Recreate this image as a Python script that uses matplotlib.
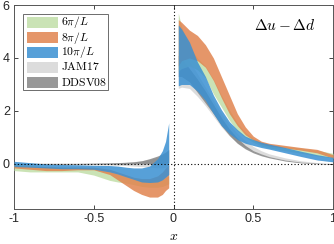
import matplotlib
matplotlib.use("Agg")
import matplotlib.pyplot as plt
from matplotlib.patches import Rectangle

plt.rcParams['mathtext.fontset'] = 'cm'
plt.rcParams['font.family'] = ['Liberation Sans', 'DejaVu Sans']

# ---- data ----
xl = [-1.0, -0.9, -0.8, -0.7, -0.6, -0.5, -0.4, -0.35, -0.3, -0.25, -0.2, -0.15, -0.1, -0.07, -0.05, -0.03]
xr = [0.03, 0.05, 0.1, 0.15, 0.2, 0.25, 0.3, 0.35, 0.4, 0.45, 0.5, 0.55, 0.6, 0.7, 0.8, 0.9, 1.0]

# 6pi/L (green)
g_hi_l = [0.0, -0.05, -0.1, -0.12, -0.12, -0.18, -0.3, -0.38, -0.45, -0.55, -0.62, -0.65, -0.65, -0.6, -0.5, -0.45]
g_lo_l = [-0.25, -0.3, -0.3, -0.3, -0.3, -0.42, -0.62, -0.68, -0.72, -0.78, -0.85, -0.88, -0.88, -0.85, -0.8, -0.75]
g_hi_r = [5.7, 5.2, 4.4, 4.0, 3.7, 3.2, 2.6, 2.05, 1.55, 1.2, 0.97, 0.82, 0.74, 0.66, 0.6, 0.52, 0.4]
g_lo_r = [3.5, 3.6, 3.7, 3.55, 3.25, 2.65, 2.15, 1.65, 1.25, 1.0, 0.82, 0.68, 0.6, 0.5, 0.4, 0.3, 0.22]

# 8pi/L (orange)
o_hi_l = [-0.05, -0.08, -0.1, -0.12, -0.12, -0.12, -0.2, -0.3, -0.4, -0.5, -0.55, -0.55, -0.45, -0.3, -0.15, -0.05]
o_lo_l = [-0.15, -0.2, -0.25, -0.25, -0.22, -0.22, -0.4, -0.6, -0.8, -1.0, -1.15, -1.25, -1.25, -1.15, -1.0, -0.9]
o_hi_r = [5.45, 5.35, 5.05, 4.85, 4.5, 4.0, 3.3, 2.6, 1.9, 1.4, 1.05, 0.86, 0.78, 0.7, 0.62, 0.55, 0.35]
o_lo_r = [3.7, 3.9, 4.0, 3.9, 3.65, 3.15, 2.5, 1.9, 1.45, 1.1, 0.9, 0.75, 0.68, 0.6, 0.52, 0.42, 0.22]

# 10pi/L (blue)
b_hi_l = [0.1, 0.05, 0.0, -0.02, -0.03, -0.05, -0.06, -0.08, -0.12, -0.15, -0.15, -0.08, 0.2, 0.5, 0.85, 1.55]
b_lo_l = [-0.1, -0.12, -0.15, -0.18, -0.18, -0.2, -0.3, -0.38, -0.48, -0.58, -0.68, -0.7, -0.68, -0.6, -0.5, -0.4]
b_hi_r = [5.25, 5.1, 4.6, 3.85, 3.3, 2.6, 2.05, 1.6, 1.3, 1.05, 0.92, 0.82, 0.75, 0.62, 0.48, 0.35, 0.25]
b_lo_r = [2.95, 3.0, 3.0, 2.75, 2.4, 1.9, 1.45, 1.15, 0.92, 0.78, 0.7, 0.62, 0.56, 0.42, 0.28, 0.15, 0.08]

# JAM17 (light gray)
j_hi_l = [0.03, 0.03, 0.03, 0.03, 0.03, 0.03, 0.04, 0.05, 0.07, 0.09, 0.12, 0.17, 0.25, 0.33, 0.4, 0.5]
j_lo_l = [-0.03, -0.03, -0.03, -0.03, -0.03, -0.03, -0.04, -0.05, -0.06, -0.08, -0.1, -0.12, -0.15, -0.15, -0.13, -0.1]
j_hi_r = [4.3, 4.2, 3.9, 3.4, 2.9, 2.4, 1.9, 1.5, 1.15, 0.88, 0.66, 0.5, 0.38, 0.23, 0.12, 0.05, 0.02]
j_lo_r = [2.85, 2.9, 2.85, 2.55, 2.2, 1.8, 1.4, 1.06, 0.8, 0.62, 0.48, 0.37, 0.28, 0.15, 0.07, 0.02, 0.0]

# DDSV08 (dark gray)
d_hi_l = [0.02, 0.02, 0.02, 0.02, 0.02, 0.03, 0.04, 0.05, 0.06, 0.08, 0.12, 0.2, 0.3, 0.38, 0.45, 0.55]
d_lo_l = [-0.01, -0.01, -0.01, -0.01, -0.01, -0.01, -0.01, -0.01, -0.01, 0.0, 0.0, 0.0, 0.0, 0.02, 0.03, 0.05]
d_hi_r = [4.1, 4.0, 3.6, 3.2, 2.75, 2.25, 1.75, 1.32, 0.98, 0.7, 0.5, 0.38, 0.28, 0.15, 0.07, 0.03, 0.0]
d_lo_r = [3.3, 3.3, 3.1, 2.7, 2.3, 1.9, 1.45, 1.08, 0.78, 0.57, 0.42, 0.31, 0.23, 0.11, 0.04, 0.01, -0.01]

labels = [r'$6\pi/L$', r'$8\pi/L$', r'$10\pi/L$', r'$\mathrm{JAM17}$', r'$\mathrm{DDSV08}$']
colors = ['#c5e0ad', '#e1844f', '#3a90d2', '#d6d6d6', '#7f7f7f']
alphas = [0.9, 0.85, 0.85, 0.85, 0.8]

bands = [
    (g_lo_l, g_hi_l, g_lo_r, g_hi_r),
    (o_lo_l, o_hi_l, o_lo_r, o_hi_r),
    (b_lo_l, b_hi_l, b_lo_r, b_hi_r),
    (j_lo_l, j_hi_l, j_lo_r, j_hi_r),
    (d_lo_l, d_hi_l, d_lo_r, d_hi_r),
]
zorders = [3, 4, 5, 1, 2]

W, H = 334, 244
AX_L, AX_R, AX_T, AX_B = 14, 333, 5, 209

fig = plt.figure(figsize=(W / 100, H / 100), dpi=100)
ax = fig.add_axes([AX_L / W, 1 - AX_B / H, (AX_R - AX_L) / W, (AX_B - AX_T) / H])


def fx(px):
    return (px - AX_L) / (AX_R - AX_L)


def fy(py):
    return (AX_B - py) / (AX_B - AX_T)


for (lol, hil, lor, hir), c, a, z in zip(bands, colors, alphas, zorders):
    ax.fill_between(xl, lol, hil, color=c, alpha=a, lw=0, zorder=z)
    ax.fill_between(xr, lor, hir, color=c, alpha=a, lw=0, zorder=z)

ax.axhline(0, color='k', ls=(0, (1, 2)), lw=0.8, zorder=6)
ax.axvline(0, color='k', ls=(0, (1, 2)), lw=0.8, zorder=6)

ax.set_xlim(-1, 1)
ax.set_ylim(-1.7, 6)
ax.set_xticks([-1, -0.5, 0, 0.5, 1])
ax.set_xticklabels(['-1', '-0.5', '0', '0.5', '1'])
ax.set_yticks([0, 2, 4, 6])
ax.tick_params(direction='in', length=3, width=0.6, labelsize=9, colors='#262626',
               top=True, right=True, pad=3)
for s in ax.spines.values():
    s.set_color('#555555')
    s.set_linewidth(0.7)

ax.set_xlabel(r'$x$', fontsize=10, labelpad=3)
ax.text(0.945, 0.877, r'$\Delta u-\Delta d$', transform=ax.transAxes, ha='right',
        va='baseline', fontsize=11, zorder=7)

# legend box (drawn by hand for MATLAB-like compact rows)
ax.add_patch(Rectangle((fx(23), fy(90)), fx(108) - fx(23), fy(14) - fy(90),
                       transform=ax.transAxes, facecolor='white', edgecolor='#555555',
                       lw=0.6, zorder=8))
row_y = [22.5, 37.5, 52.5, 67.5, 82.5]
for lab, c, a, ry in zip(labels, colors, alphas, row_y):
    ax.add_patch(Rectangle((fx(27), fy(ry + 5.5)), fx(58) - fx(27), fy(ry - 5.5) - fy(ry + 5.5),
                           transform=ax.transAxes, facecolor=c, alpha=a, lw=0, zorder=9))
    ax.text(fx(61), fy(ry), lab, transform=ax.transAxes, ha='left', va='center',
            fontsize=8.4, zorder=10)

fig.savefig('out.png', dpi=100)
